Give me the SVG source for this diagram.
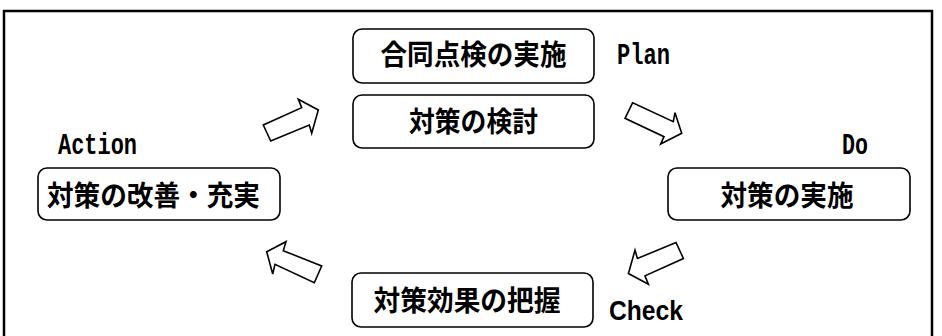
<svg xmlns="http://www.w3.org/2000/svg" width="942" height="336" viewBox="0 0 942 336">
<style>
.frame{fill:none;stroke:#000;stroke-width:2.5}
.box{fill:#fff;stroke:#000;stroke-width:1.6}
.jp{font-family:"Noto Sans CJK JP","Noto Sans CJK SC",sans-serif;font-weight:bold;font-size:28px;fill:#000;text-anchor:middle}
.lbl{font-family:"Liberation Mono",monospace;font-weight:bold;font-size:30px;fill:#000}
.chk{font-family:"Liberation Sans",Arial,sans-serif;font-weight:bold;font-size:27px;fill:#000}
.arr{fill:#fff;stroke:#000;stroke-width:1.6;stroke-linejoin:miter}
</style>
<rect class="frame" x="4" y="11" width="928" height="340"/>
<g id="node-plan1">
<rect class="box" x="353" y="29" width="241" height="54" rx="9"/>
<text class="jp" x="473.5" y="65" textLength="186" lengthAdjust="spacingAndGlyphs">合同点検の実施</text>
</g>
<g id="label-plan">
<text class="lbl" x="617" y="64" textLength="53" lengthAdjust="spacingAndGlyphs">Plan</text>
</g>
<g id="node-plan2">
<rect class="box" x="353" y="95" width="241" height="53" rx="9"/>
<text class="jp" x="473.5" y="132" textLength="129" lengthAdjust="spacingAndGlyphs">対策の検討</text>
</g>
<g id="label-action">
<text class="lbl" x="58" y="154" textLength="79" lengthAdjust="spacingAndGlyphs">Action</text>
</g>
<g id="node-action">
<rect class="box" x="38" y="168" width="242" height="52" rx="9"/>
<text class="jp" x="153.5" y="206" textLength="213" lengthAdjust="spacingAndGlyphs">対策の改善・充実</text>
</g>
<g id="label-do">
<text class="lbl" x="842" y="154" textLength="26" lengthAdjust="spacingAndGlyphs">Do</text>
</g>
<g id="node-do">
<rect class="box" x="668" y="168" width="242" height="52" rx="9"/>
<text class="jp" x="787" y="206" textLength="133" lengthAdjust="spacingAndGlyphs">対策の実施</text>
</g>
<g id="node-check">
<rect class="box" x="352" y="273" width="241" height="54" rx="9"/>
<text class="jp" x="467" y="311" textLength="187" lengthAdjust="spacingAndGlyphs">対策効果の把握</text>
</g>
<g id="label-check">
<text class="chk" x="609" y="320" textLength="74" lengthAdjust="spacingAndGlyphs">Check</text>
</g>
<g id="connectors">
<polygon class="arr" points="270.7,141 263.3,125 301.7,107.7 298.3,99.3 318.3,110 311.7,133.3 309.3,125"/>
<polygon class="arr" points="632.7,102.7 625,118.3 664,136.7 660.7,144 681.7,133.3 675,112.7 673.3,121.7"/>
<polygon class="arr" points="266.7,251.7 286,241.7 283.3,250.7 321.7,266 314.3,282.7 275,264.3 272.7,274"/>
<polygon class="arr" points="676,242.5 683.4,258.5 645,275.8 648.4,284.2 628.4,273.5 635,250.2 637.4,258.5"/>
</g>
</svg>
